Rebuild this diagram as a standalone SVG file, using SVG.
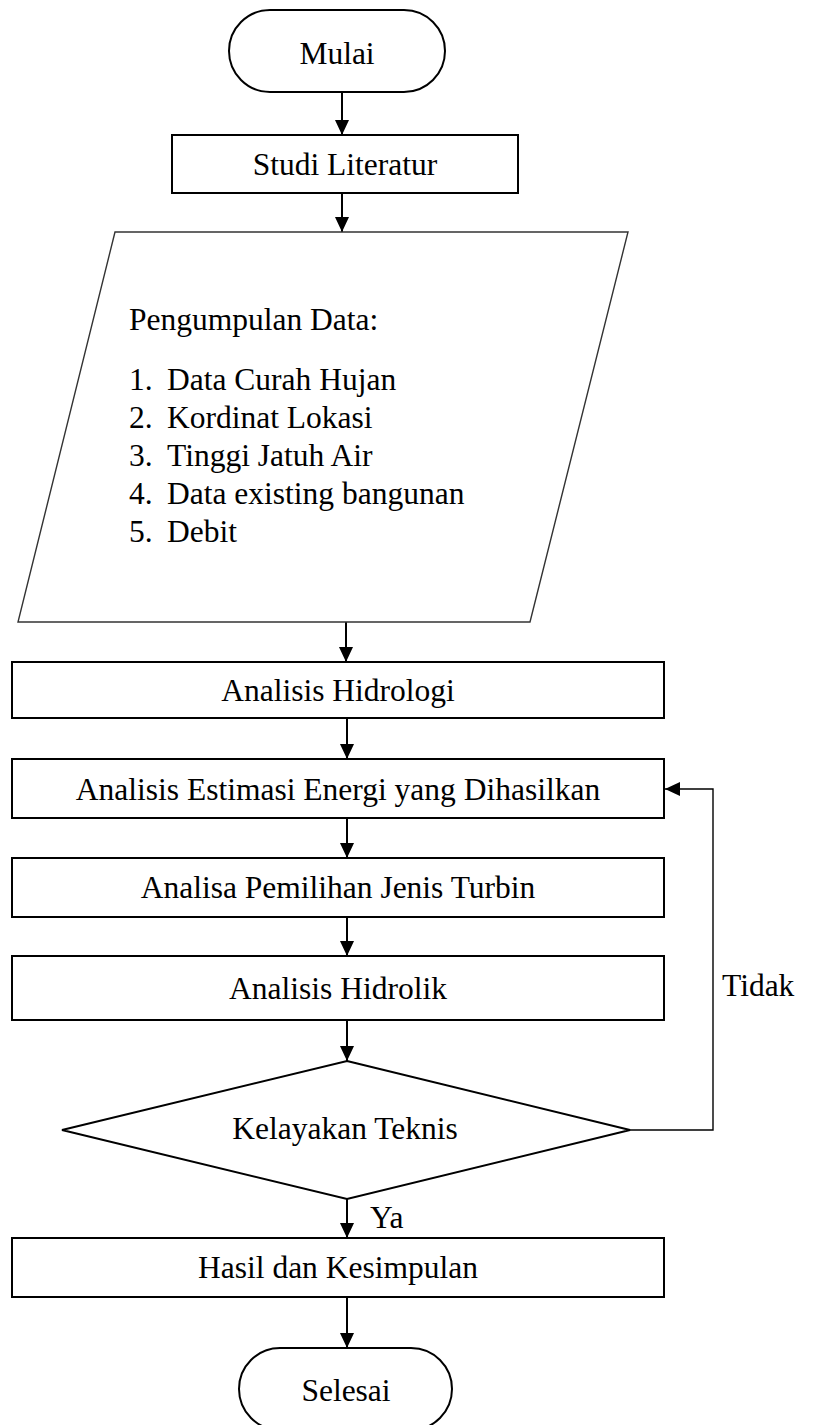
<svg xmlns="http://www.w3.org/2000/svg" width="830" height="1425" viewBox="0 0 830 1425">
<style>
.s{fill:#fff;stroke:#000;stroke-width:2}
.p{fill:#fff;stroke:#333;stroke-width:1.4}
.t{font-family:"Liberation Serif","Times New Roman",serif;font-size:31.5px;fill:#000}
.c{text-anchor:middle}
.l{fill:none;stroke:#000;stroke-width:2}
.th{fill:none;stroke:#000;stroke-width:1.4}
</style>
<defs>
<marker id="ah" markerWidth="15" markerHeight="14" refX="15" refY="7" orient="auto" markerUnits="userSpaceOnUse">
<path d="M0,0 L15,7 L0,14 Z" fill="#000"/>
</marker>
</defs>
<rect width="830" height="1425" fill="#fff"/>
<g id="connectors">
<line class="l" x1="342" y1="92" x2="342" y2="135" marker-end="url(#ah)"/>
<line class="l" x1="342" y1="193" x2="342" y2="232" marker-end="url(#ah)"/>
<line class="l" x1="346" y1="622" x2="346" y2="662" marker-end="url(#ah)"/>
<line class="l" x1="347" y1="718" x2="347" y2="759" marker-end="url(#ah)"/>
<line class="l" x1="347" y1="818" x2="347" y2="858" marker-end="url(#ah)"/>
<line class="l" x1="347" y1="917" x2="347" y2="956" marker-end="url(#ah)"/>
<line class="l" x1="347" y1="1020" x2="347" y2="1061" marker-end="url(#ah)"/>
<line class="l" x1="347" y1="1199" x2="347" y2="1238" marker-end="url(#ah)"/>
<line class="l" x1="347" y1="1297" x2="347" y2="1348" marker-end="url(#ah)"/>
<polyline class="th" points="630,1130 713,1130 713,789 665,789" marker-end="url(#ah)"/>
<text class="t" x="370" y="1228">Ya</text>
<text class="t" x="722" y="996">Tidak</text>
</g>
<g id="mulai">
<rect class="s" x="229" y="10" width="216" height="82" rx="41" ry="41"/>
<text class="t c" x="337" y="64">Mulai</text>
</g>
<g id="studi">
<rect class="s" x="172" y="135" width="346" height="58"/>
<text class="t c" x="345" y="175">Studi Literatur</text>
</g>
<g id="data">
<polygon class="p" points="115,232 628,232 530,622 18,622"/>
<text class="t" x="129" y="330">Pengumpulan Data:</text>
<text class="t" x="129" y="390">1.</text><text class="t" x="167" y="390">Data Curah Hujan</text>
<text class="t" x="129" y="428">2.</text><text class="t" x="167" y="428">Kordinat Lokasi</text>
<text class="t" x="129" y="466">3.</text><text class="t" x="167" y="466">Tinggi Jatuh Air</text>
<text class="t" x="129" y="504">4.</text><text class="t" x="167" y="504">Data existing bangunan</text>
<text class="t" x="129" y="542">5.</text><text class="t" x="167" y="542">Debit</text>
</g>
<g id="hidrologi">
<rect class="s" x="12" y="662" width="652" height="56"/>
<text class="t c" x="338" y="701">Analisis Hidrologi</text>
</g>
<g id="estimasi">
<rect class="s" x="12" y="759" width="652" height="59"/>
<text class="t c" x="338" y="800">Analisis Estimasi Energi yang Dihasilkan</text>
</g>
<g id="turbin">
<rect class="s" x="12" y="858" width="652" height="59"/>
<text class="t c" x="338" y="898">Analisa Pemilihan Jenis Turbin</text>
</g>
<g id="hidrolik">
<rect class="s" x="12" y="956" width="652" height="64"/>
<text class="t c" x="338" y="999">Analisis Hidrolik</text>
</g>
<g id="kelayakan">
<polygon class="s" points="347,1061 630,1130 347,1199 62,1130"/>
<text class="t c" x="345" y="1139">Kelayakan Teknis</text>
</g>
<g id="hasil">
<rect class="s" x="12" y="1238" width="652" height="59"/>
<text class="t c" x="338" y="1278">Hasil dan Kesimpulan</text>
</g>
<g id="selesai">
<rect class="s" x="239" y="1348" width="213" height="82" rx="41" ry="41"/>
<text class="t c" x="346" y="1401">Selesai</text>
</g>
</svg>
